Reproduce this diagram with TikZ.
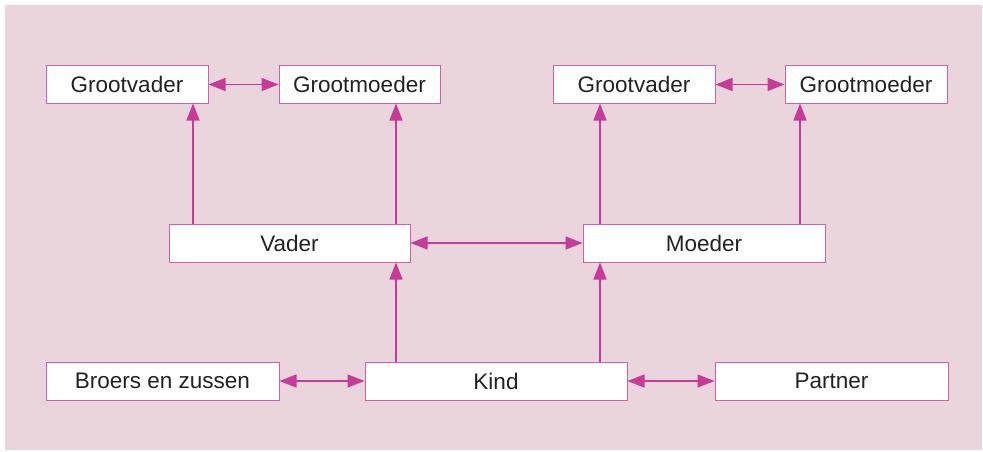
\documentclass[tikz,border=0pt]{standalone}
\usepackage{fontspec}
\setmainfont{Liberation Sans}
\usetikzlibrary{arrows.meta}
\definecolor{bgpink}{HTML}{EBD5DC}
\definecolor{boxline}{HTML}{D35FAB}
\definecolor{arrowc}{HTML}{C63A98}
\definecolor{txt}{HTML}{222222}
\begin{document}
\begin{tikzpicture}[x=1pt,y=-1pt,
  box/.style={draw=boxline,fill=white,line width=1pt,minimum height=37pt,inner sep=0pt,
    text=txt,font=\fontsize{22.5}{24}\selectfont,anchor=center},
  tip/.style={},
  conn/.style={draw=arrowc,line width=1.4pt,-{Triangle[length=17pt,width=13pt]}},
  bi/.style={draw=arrowc,line width=1.4pt,{Triangle[length=17pt,width=13pt]}-{Triangle[length=17pt,width=13pt]}}]
\useasboundingbox (0,0) rectangle (983,452);
\fill[bgpink] (5,5) rectangle (982,450);
\node[box,minimum width=162pt] (gvL) at (127,84.5) {Grootvader};
\node[box,minimum width=161pt] (gmL) at (359.5,84.5) {Grootmoeder};
\node[box,minimum width=162pt] (gvR) at (634,84.5) {Grootvader};
\node[box,minimum width=162pt] (gmR) at (866,84.5) {Grootmoeder};
\node[box,minimum width=241pt,minimum height=38pt] (vader) at (289.5,243) {Vader};
\node[box,minimum width=242pt,minimum height=38pt] (moeder) at (704,243) {Moeder};
\node[box,minimum width=233pt,minimum height=38pt] (broers) at (162.5,381) {Broers en zussen};
\node[box,minimum width=262pt,minimum height=38pt] (kind) at (496,381) {Kind};
\node[box,minimum width=233pt,minimum height=38pt] (partner) at (831.5,381) {Partner};
\coordinate (xa) at (193,0);
\coordinate (xb) at (396,0);
\coordinate (xc) at (600,0);
\coordinate (xd) at (800,0);
\draw[bi] (gvL) -- (gmL);
\draw[bi] (gvR) -- (gmR);
\draw[bi] (vader) -- (moeder);
\draw[bi] (broers) -- (kind);
\draw[bi] (kind) -- (partner);
\draw[conn] (vader.north -| xa) -- (gvL.south -| xa);
\draw[conn] (vader.north -| xb) -- (gmL.south -| xb);
\draw[conn] (moeder.north -| xc) -- (gvR.south -| xc);
\draw[conn] (moeder.north -| xd) -- (gmR.south -| xd);
\draw[conn] (kind.north -| xb) -- (vader.south -| xb);
\draw[conn] (kind.north -| xc) -- (moeder.south -| xc);
\end{tikzpicture}
\end{document}
